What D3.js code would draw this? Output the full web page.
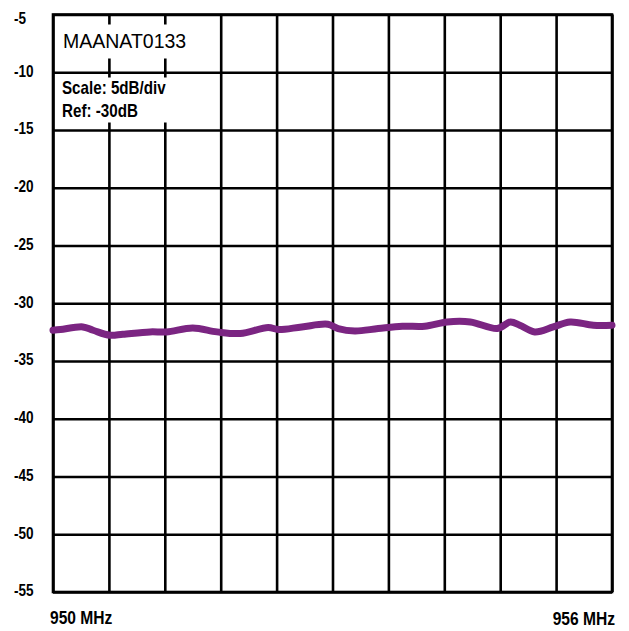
<!DOCTYPE html>
<html>
<head>
<meta charset="utf-8">
<script src="https://cdn.jsdelivr.net/npm/d3@7"></script>
<style>
    body { margin: 0; background: #fff; }
    .narrow { font-family: "Liberation Sans", Arial, sans-serif; font-weight: bold; }
</style>
</head>
<body>
<svg id="chart"></svg>
<script>
// trace (frequency in MHz, level in dB)
const freqs = [950.00, 950.08, 950.32, 950.43, 950.61, 950.75, 951.04, 951.22, 951.50, 951.76,
               952.01, 952.31, 952.42, 952.67, 952.95, 953.06, 953.24, 953.49, 953.75, 953.99,
               954.23, 954.48, 954.77, 954.91, 955.01, 955.17, 955.37, 955.55, 955.80, 956.00];
const levels = [-32.34, -32.28, -32.05, -32.34, -32.77, -32.68, -32.48, -32.48, -32.14, -32.48,
                -32.62, -32.10, -32.28, -32.05, -31.82, -32.19, -32.40, -32.19, -31.99, -31.99,
                -31.62, -31.62, -32.19, -31.62, -31.90, -32.48, -32.05, -31.62, -31.90, -31.90];
const yTicks = [-5, -10, -15, -20, -25, -30, -35, -40, -45, -50, -55];
const xGrid = [950, 950.6, 951.2, 951.8, 952.4, 953, 953.6, 954.2, 954.8, 955.4, 956];
const xLabels = ["950 MHz", "956 MHz"];
const title = "MAANAT0133";
const notes = ["Scale: 5dB/div", "Ref: -30dB"];

const W = 629, H = 631;
const margin = { top: 14.5, right: 17, bottom: 39, left: 53 };
const w = W - margin.left - margin.right;
const h = H - margin.top - margin.bottom;

const svg = d3.select("#chart").attr("width", W).attr("height", H);
const g = svg.append("g").attr("transform", `translate(${margin.left},${margin.top})`);

const x = d3.scaleLinear().domain([950, 956]).range([0, w]);
const y = d3.scaleLinear().domain([-55, -5]).range([h, 0]);

// no narrow font installed: squeeze the bold sans to ~82% width
let squeeze = function(sel) {
    sel.each(function() {
        let len = this.getComputedTextLength();
        d3.select(this).attr("textLength", len * 0.82).attr("lengthAdjust", "spacingAndGlyphs");
    });
};

// grid
g.append("g")
    .call(d3.axisBottom(x).tickValues(xGrid).tickSize(h).tickFormat(""))
    .call(a => a.select(".domain").remove());
g.append("g")
    .call(d3.axisLeft(y).tickValues(yTicks).tickSize(-w).tickFormat(""))
    .call(a => a.select(".domain").remove());
g.selectAll(".tick line").attr("stroke", "#000").attr("stroke-width", 2.6);
g.append("rect")
    .attr("width", w).attr("height", h)
    .attr("fill", "none").attr("stroke", "#000").attr("stroke-width", 2.6);

// white boxes behind the notes
g.append("rect").attr("x", 3).attr("y", 10).attr("width", 142).attr("height", 34).attr("fill", "#fff");
g.append("rect").attr("x", 3).attr("y", 63).attr("width", 117).attr("height", 45).attr("fill", "#fff");

g.append("text")
    .attr("x", 10).attr("y", 33)
    .attr("font-family", "'Liberation Sans', Arial, sans-serif")
    .attr("font-size", 19.5)
    .attr("fill", "#000")
    .text(title);

g.selectAll(".note")
    .data(notes)
    .join("text")
    .attr("class", "note narrow")
    .attr("x", 9)
    .attr("y", (d, i) => 79 + i * 23.5)
    .attr("font-size", 18.5)
    .attr("fill", "#000")
    .text(d => d)
    .call(squeeze);

// trace
const pts = freqs.map((f, i) => [f, levels[i]]);
g.append("path")
    .datum(pts)
    .attr("fill", "none")
    .attr("stroke", "#7b2582")
    .attr("stroke-width", 7)
    .attr("stroke-linejoin", "round")
    .attr("stroke-linecap", "round")
    .attr("d", d3.line().curve(d3.curveCatmullRom).x(d => x(d[0])).y(d => y(d[1])));

// y labels
svg.selectAll(".ylab")
    .data(yTicks)
    .join("text")
    .attr("class", "ylab narrow")
    .attr("x", 14)
    .attr("y", d => margin.top + y(d) + (d === -5 ? 5 : 0))
    .attr("dominant-baseline", "middle")
    .attr("font-size", 16.5)
    .attr("fill", "#000")
    .text(d => d)
    .call(squeeze);

// x labels
svg.append("text")
    .attr("class", "narrow")
    .attr("x", margin.left + x(950) - 3)
    .attr("y", 624)
    .attr("font-size", 19)
    .text(xLabels[0])
    .call(squeeze);
svg.append("text")
    .attr("class", "narrow")
    .attr("x", margin.left + x(956) + 3)
    .attr("y", 625)
    .attr("text-anchor", "end")
    .attr("font-size", 19)
    .text(xLabels[1])
    .call(squeeze);
</script>
</body>
</html>
